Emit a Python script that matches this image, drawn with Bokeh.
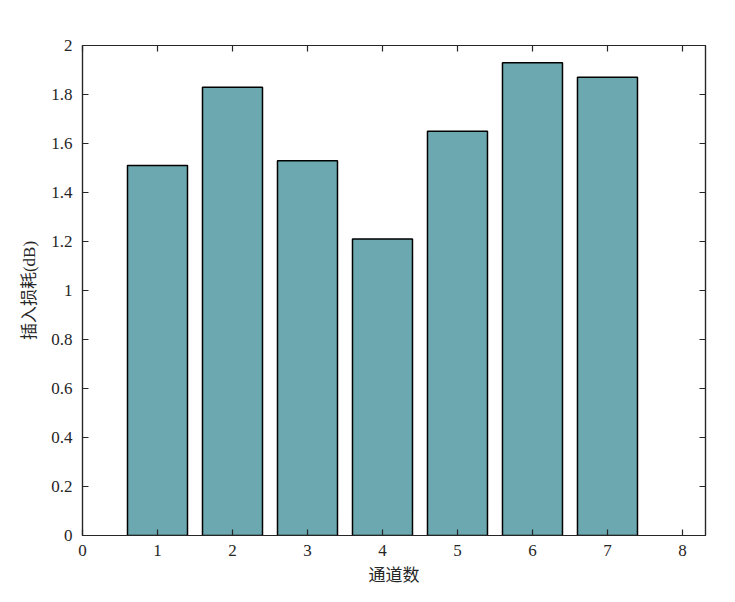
from bokeh.plotting import figure
from bokeh.models import Range1d, FixedTicker, LinearAxis, ColumnDataSource
from bokeh.embed import file_html
from bokeh.resources import INLINE

channels = [1, 2, 3, 4, 5, 6, 7]
loss_db = [1.51, 1.83, 1.53, 1.21, 1.65, 1.93, 1.87]
x_ticks = [0, 1, 2, 3, 4, 5, 6, 7, 8]
y_ticks = [0, 0.2, 0.4, 0.6, 0.8, 1.0, 1.2, 1.4, 1.6, 1.8, 2.0]
y_labels = ["0", "0.2", "0.4", "0.6", "0.8", "1", "1.2", "1.4", "1.6", "1.8", "2"]

FONT = "'Liberation Serif', 'Noto Sans CJK SC', serif"

p = figure(width=719, height=590, output_backend="svg", toolbar_location=None,
           x_range=Range1d(0, 8.307), y_range=Range1d(0, 2),
           min_border_left=82, min_border_right=14, min_border_top=45, min_border_bottom=55)
p.background_fill_color = "white"
p.border_fill_color = "white"
p.outline_line_color = "#262626"
p.outline_line_width = 1.2
p.xgrid.visible = False
p.ygrid.visible = False

src = ColumnDataSource(dict(x=channels, top=loss_db))
p.vbar(x="x", top="top", bottom=0, width=0.8, source=src,
       fill_color="#6BA8B0", line_color="black", line_width=1.5)

def style(ax, labels=True):
    ax.axis_line_color = "#262626"
    ax.axis_line_width = 1.2
    ax.major_tick_in = 6
    ax.major_tick_out = 0
    ax.minor_tick_line_color = None
    ax.major_tick_line_color = "#262626"
    ax.major_tick_line_width = 1.2
    ax.major_label_text_font = FONT
    ax.major_label_text_font_size = "17px"
    ax.major_label_text_color = "#262626" if labels else None
    ax.axis_label_text_font = FONT
    ax.axis_label_text_font_size = "17px"
    ax.axis_label_text_font_style = "normal"
    ax.axis_label_text_color = "#262626"

xa = p.xaxis[0]
xa.ticker = FixedTicker(ticks=x_ticks)
xa.axis_label = "通道数"
xa.axis_label_standoff = 7
xa.major_label_standoff = 9
style(xa)

ya = p.yaxis[0]
ya.ticker = FixedTicker(ticks=y_ticks)
ya.major_label_overrides = {t: l for t, l in zip(y_ticks, y_labels)}
ya.axis_label = "插入损耗(dB)"
ya.axis_label_standoff = 9
ya.major_label_standoff = 10
style(ya)

top_ax = LinearAxis(ticker=FixedTicker(ticks=x_ticks))
style(top_ax, labels=False)
top_ax.major_label_text_font_size = "0px"
p.add_layout(top_ax, "above")

right_ax = LinearAxis(ticker=FixedTicker(ticks=y_ticks))
style(right_ax, labels=False)
right_ax.major_label_text_font_size = "0px"
p.add_layout(right_ax, "right")

open("out.html", "w").write(file_html(p, INLINE))
